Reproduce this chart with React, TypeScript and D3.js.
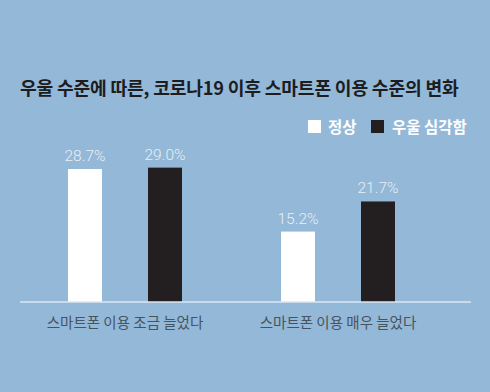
import React from "react";
import * as d3 from "d3";

const title = "우울 수준에 따른, 코로나19 이후 스마트폰 이용 수준의 변화";
const categories = ["스마트폰 이용 조금 늘었다", "스마트폰 이용 매우 늘었다"];
const seriesNames = ["정상", "우울 심각함"];
const normalValues = [28.7, 15.2];
const depressedValues = [29.0, 21.7];

const colors = ["#ffffff", "#231f20"];
const bg = "#94b8d7";

const App = () => {
  const width = 490;
  const height = 392;
  const baseline = 302;

  const y = d3.scaleLinear().domain([0, 30]).range([baseline, baseline - 139]);
  const x0 = d3.scaleBand().domain(categories).range([68, 494]).paddingInner(0);
  const x1 = d3.scaleBand().domain(seriesNames).range([0, 114]).paddingInner(0.575);
  const groupW = 114;

  const rows = categories.map((c, i) => ({
    category: c,
    values: [normalValues[i], depressedValues[i]],
  }));

  const font = "'Noto Sans CJK KR', 'Noto Sans', sans-serif";

  return (
    <svg
      width={width}
      height={height}
      style={{ position: "absolute", left: 0, top: 0, display: "block" }}
    >
      <rect width={width} height={height} fill={bg} />
      <text
        x={20}
        y={95}
        fontFamily={font}
        fontWeight={700}
        fontSize={18.2}
        fill="#1d1d1f"
        letterSpacing={-0.2}
      >
        {title}
      </text>

      {/* legend */}
      <g fontFamily={font} fontWeight={700} fontSize={15.5} fill="#ffffff">
        <rect x={308} y={120} width={13} height={13} fill={colors[0]} />
        <text x={328} y={132.5}>{seriesNames[0]}</text>
        <rect x={371} y={120} width={13} height={13} fill={colors[1]} />
        <text x={392} y={132.5}>{seriesNames[1]}</text>
      </g>

      {rows.map((r) => (
        <g key={r.category} transform={`translate(${x0(r.category)},0)`}>
          {r.values.map((v, j) => (
            <g key={seriesNames[j]}>
              <rect
                x={x1(seriesNames[j])}
                y={y(v)}
                width={x1.bandwidth()}
                height={baseline - y(v)}
                fill={colors[j]}
              />
              <text
                x={(x1(seriesNames[j]) as number) + x1.bandwidth() / 2}
                y={y(v) - 8}
                textAnchor="middle"
                fontFamily="Roboto, sans-serif"
                fontWeight={300}
                fontSize={15.5}
                fill="#e8eff6"
              >
                {v.toFixed(1)}%
              </text>
            </g>
          ))}
          <text
            x={groupW / 2}
            y={328}
            textAnchor="middle"
            fontFamily={font}
            fontSize={14.5}
            fill="#46545f"
          >
            {r.category}
          </text>
        </g>
      ))}

      <line x1={20} x2={471} y1={baseline} y2={baseline} stroke="#dbe7f1" strokeWidth={1.5} />
    </svg>
  );
};

export default App;
